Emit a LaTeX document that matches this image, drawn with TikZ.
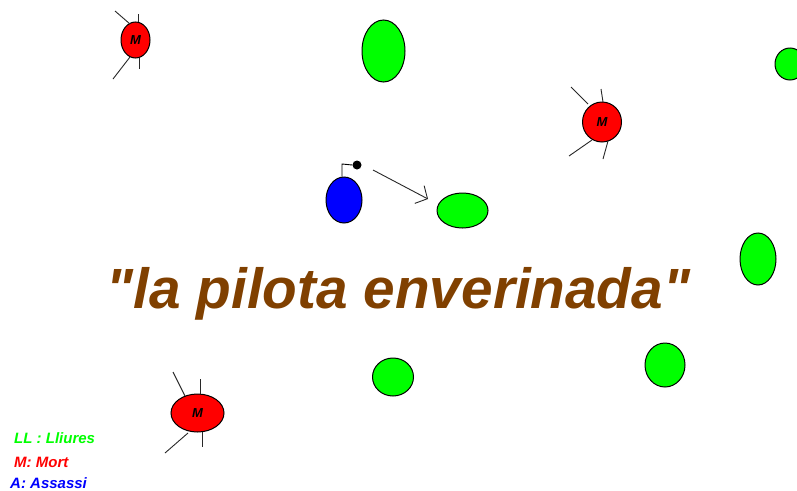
\documentclass[tikz,border=0pt]{standalone}
\usepackage{fontspec}
\setmainfont{Liberation Sans}
\usetikzlibrary{shapes.geometric,arrows.meta}
\definecolor{lgreen}{RGB}{0,255,0}
\definecolor{lred}{RGB}{255,0,0}
\definecolor{lblue}{RGB}{0,0,255}
\definecolor{lbrown}{RGB}{128,64,0}
\definecolor{leggray}{RGB}{40,40,40}
\tikzset{
  blob/.style={ellipse, draw=black, line width=1pt, inner sep=0pt},
  free/.style={blob, fill=lgreen},
  dead/.style={blob, fill=lred, font=\bfseries\itshape\fontsize{13}{13}\selectfont},
  killer/.style={blob, fill=lblue},
  leg/.style={draw=leggray, line width=0.9pt},
  legend/.style={anchor=base west, inner sep=0pt, font=\bfseries\itshape\fontsize{15}{15}\selectfont}
}
\begin{document}
\begin{tikzpicture}[x=1pt,y=-1pt]
\useasboundingbox (0,0) rectangle (797,490);
\fill[white] (0,0) rectangle (797,490);
% free (green)
\node[free, minimum width=43pt, minimum height=62pt] (g1) at (383.5,51) {};
\node[free, minimum width=30pt, minimum height=32pt] (g2) at (790,64) {};
\node[free, minimum width=51pt, minimum height=35pt] (g3) at (462.5,210.5) {};
\node[free, minimum width=36pt, minimum height=52pt] (g4) at (758,259) {};
\node[free, minimum width=40pt, minimum height=44pt] (g5) at (665,365) {};
\node[free, minimum width=41pt, minimum height=38pt] (g6) at (393,377) {};
% dead (red)
\node[dead, minimum width=29pt, minimum height=36pt] (m1) at (135.5,40) {M};
\draw[leg] (115,11) -- (130,24);
\draw[leg] (138,14) -- (138,22);
\draw[leg] (113,79) -- (130,57);
\draw[leg] (139,58) -- (139,69);
\node[dead, minimum width=39pt, minimum height=40pt] (m2) at (602,122) {M};
\draw[leg] (571,87) -- (588,104);
\draw[leg] (601,89) -- (603,102);
\draw[leg] (569,156) -- (592,140);
\draw[leg] (608,141) -- (603,159);
\node[dead, minimum width=53pt, minimum height=38pt] (m3) at (197.5,413) {M};
\draw[leg] (173,372) -- (185,396);
\draw[leg] (200,379) -- (200,394);
\draw[leg] (165,453) -- (188,433);
\draw[leg] (202,432) -- (202,447);
% killer (blue)
\node[killer, minimum width=36pt, minimum height=46pt] (a) at (344,200) {};
\node[circle, fill=black, inner sep=0pt, minimum size=9pt] (bomb) at (357,165) {};
\draw[black, line width=0.9pt] (a.north -| 342,0) -- (342,164) -- (bomb.west);
% arrow
\coordinate (ast) at (373,170);
\coordinate (aen) at (428,199);
\draw[leggray, line width=0.9pt, -{Straight Barb[length=9pt,width=20pt]}] (ast) -- (aen);
% title
\node[anchor=base, inner sep=0pt, text=lbrown, font=\bfseries\itshape\fontsize{56.7}{56.7}\selectfont] (title) at (398.5,308) {\textquotedbl la pilota enverinada\textquotedbl};
% legend
\node[legend, text=lgreen] (l1) at (14,443) {LL : Lliures};
\node[legend, text=lred] (l2) at (14,467) {M: Mort};
\node[legend, text=lblue] (l3) at (10,488) {A: Assassi};
\end{tikzpicture}
\end{document}
